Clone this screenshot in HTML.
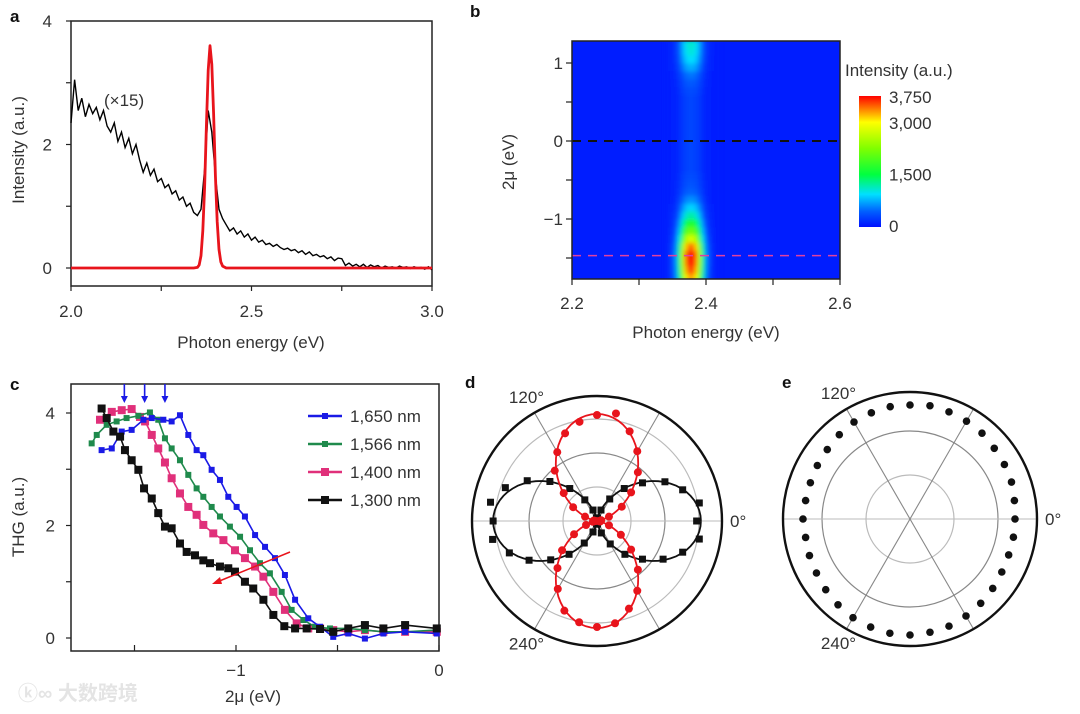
<!DOCTYPE html>
<html><head><meta charset="utf-8">
<style>
html,body{margin:0;padding:0;background:#fff;}
svg{display:block;font-family:"Liberation Sans","Noto Sans CJK SC",sans-serif;}
text{fill:#333;font-size:17px;}
.lbl{font-weight:bold;font-size:17px;fill:#111;}
</style></head>
<body>
<svg id="fig" width="1080" height="714" viewBox="0 0 1080 714" xmlns="http://www.w3.org/2000/svg">
<defs>
<clipPath id="clipB"><rect x="572" y="41" width="268" height="238"/></clipPath>
<filter id="blurB" x="-5%" y="-5%" width="110%" height="110%"><feGaussianBlur stdDeviation="2.5"/></filter>
<linearGradient id="cbar" x1="0" y1="1" x2="0" y2="0">
<stop offset="0" stop-color="#0010ff"/><stop offset="0.12" stop-color="#0060ff"/><stop offset="0.25" stop-color="#00e0ff"/><stop offset="0.4" stop-color="#00ff40"/><stop offset="0.6" stop-color="#80ff00"/><stop offset="0.8" stop-color="#ffff00"/><stop offset="0.9" stop-color="#ff8000"/><stop offset="1" stop-color="#ff0000"/>
</linearGradient>
</defs>
<text class="lbl" x="10" y="22">a</text>
<text class="lbl" x="470" y="17">b</text>
<text class="lbl" x="10" y="390">c</text>
<text class="lbl" x="465" y="388">d</text>
<text class="lbl" x="782" y="388">e</text>
<g id="pa"></g>
<g id="pb"></g>
<g id="pc"></g>
<g id="pd"></g>
<g id="pe"></g>
<text x="18" y="700" style="font-size:20px;fill:#e4e4e4;font-weight:bold">ⓚ∞ 大数跨境</text>
</svg>
<script>
// ---------- Panel a data ----------
const aEnergyStart = 2.0, aEnergyStep = 0.01;
const aBlackValues = [2.35,3.05,2.55,2.75,2.45,2.65,2.5,2.6,2.4,2.55,
2.3,2.2,2.35,2.05,2.2,1.95,2.1,1.85,2.0,1.75,
1.55,1.7,1.5,1.6,1.4,1.45,1.3,1.35,1.2,1.25,
1.1,1.15,1.0,1.05,0.9,0.85,0.95,1.6,2.55,2.2,
1.5,0.95,0.8,0.7,0.6,0.65,0.55,0.6,0.5,0.55,
0.45,0.5,0.42,0.45,0.38,0.4,0.35,0.38,0.33,0.3,
0.32,0.28,0.3,0.25,0.28,0.22,0.26,0.2,0.22,0.18,
0.2,0.15,0.18,0.12,0.16,0.15,0.04,0.08,0.03,0.06,
0.02,0.06,0.01,0.05,0.02,0.04,0.0,0.03,0.01,0.02,
0.0,0.03,0.01,0.02,-0.01,0.02,0.0,0.01,-0.02,0.02,-0.03];
const aRedX = [2.0,2.34,2.35,2.355,2.36,2.365,2.37,2.375,2.38,2.385,2.39,2.395,2.40,2.405,2.41,2.415,2.42,2.43,3.0];
const aRedY = [0,0,0.01,0.05,0.2,0.6,1.3,2.3,3.2,3.6,3.3,2.5,1.5,0.75,0.3,0.1,0.03,0,0];
const aXTicks = [2.0,2.5,3.0], aXTickLabels = ["2.0","2.5","3.0"];
const aYTicks = [0,2,4], aYTickLabels = ["0","2","4"];

// ---------- Panel b data ----------
const bEnergy = [2.34,2.345,2.35,2.355,2.36,2.365,2.37,2.375,2.38,2.385,2.39,2.395,2.40,2.405,2.41,2.415,2.42];
const bEnergyProfile = [0,0.02,0.06,0.15,0.35,0.65,0.9,1.0,1.0,0.9,0.65,0.35,0.15,0.06,0.02,0,0];
const bMu = [-1.75,-1.65,-1.55,-1.45,-1.35,-1.25,-1.15,-1.05,-0.95,-0.85,-0.75,-0.65,-0.55,-0.45,-0.35,-0.25,-0.15,-0.05,0.05,0.15,0.25,0.35,0.45,0.55,0.65,0.75,0.85,0.95,1.05,1.15,1.25];
const bMuProfile = [0.85,0.93,0.98,1.0,0.9,0.72,0.55,0.42,0.3,0.22,0.15,0.1,0.08,0.07,0.06,0.06,0.06,0.06,0.06,0.06,0.06,0.06,0.06,0.06,0.07,0.09,0.12,0.18,0.23,0.26,0.27];
const bXTickLabels = ["2.2","2.4","2.6"], bXTicks = [2.2,2.4,2.6];
const bYTickLabels = ["1","0","\u22121"], bYTicks = [1,0,-1];
const bCbarLabels = ["3,750","3,000","1,500","0"], bCbarValues = [3750,3000,1500,0];
const bLineMu = [0,-1.47];

// ---------- Panel c data ----------
const c1650x = [-1.662,-1.612,-1.563,-1.514,-1.456,-1.415,-1.358,-1.317,-1.276,-1.235,-1.194,-1.161,-1.120,-1.079,-1.038,-0.997,-0.956,-0.906,-0.857,-0.808,-0.759,-0.709,-0.644,-0.586,-0.521,-0.447,-0.365,-0.274,-0.167,-0.011];
const c1650y = [3.34,3.37,3.67,3.70,3.88,3.91,3.88,3.85,3.96,3.61,3.34,3.25,2.99,2.81,2.51,2.33,2.16,1.83,1.62,1.42,1.12,0.68,0.35,0.20,0.02,0.08,-0.01,0.08,0.11,0.08];
const c1566x = [-1.711,-1.686,-1.637,-1.588,-1.539,-1.481,-1.424,-1.383,-1.350,-1.317,-1.276,-1.235,-1.194,-1.161,-1.120,-1.079,-1.030,-0.980,-0.931,-0.882,-0.833,-0.775,-0.726,-0.668,-0.611,-0.537,-0.447,-0.365,-0.274,-0.167,-0.011];
const c1566y = [3.46,3.61,3.79,3.85,3.91,3.95,4.01,3.88,3.55,3.37,3.16,2.90,2.66,2.51,2.33,2.16,1.98,1.80,1.56,1.33,1.15,0.82,0.50,0.32,0.20,0.17,0.17,0.14,0.11,0.11,0.14];
const c1400x = [-1.670,-1.612,-1.563,-1.514,-1.473,-1.448,-1.415,-1.383,-1.350,-1.317,-1.276,-1.235,-1.194,-1.161,-1.112,-1.062,-1.005,-0.956,-0.906,-0.865,-0.816,-0.759,-0.701,-0.644,-0.586,-0.521,-0.447,-0.365,-0.274,-0.167,-0.011];
const c1400y = [3.88,4.02,4.05,4.07,3.93,3.85,3.61,3.37,3.12,2.84,2.57,2.33,2.19,2.01,1.86,1.74,1.56,1.42,1.27,1.09,0.82,0.50,0.26,0.17,0.17,0.14,0.11,0.14,0.11,0.11,0.11];
const c1300x = [-1.662,-1.637,-1.604,-1.571,-1.547,-1.514,-1.481,-1.453,-1.415,-1.383,-1.350,-1.317,-1.276,-1.243,-1.202,-1.161,-1.128,-1.079,-1.038,-1.005,-0.956,-0.915,-0.865,-0.816,-0.762,-0.709,-0.652,-0.586,-0.521,-0.447,-0.365,-0.274,-0.167,-0.011];
const c1300y = [4.08,3.91,3.67,3.58,3.34,3.16,2.99,2.66,2.48,2.22,1.98,1.95,1.68,1.53,1.47,1.38,1.33,1.27,1.24,1.18,1.00,0.88,0.68,0.41,0.21,0.17,0.17,0.16,0.11,0.17,0.23,0.17,0.23,0.17];
const cSeriesNames = ["1,650 nm","1,566 nm","1,400 nm","1,300 nm"];
const cArrowX = [-1.55,-1.45,-1.35];
const cXTicks = [-1,0], cXTickLabels = ["\u22121","0"];
const cYTicks = [0,2,4], cYTickLabels = ["0","2","4"];

// ---------- Panel d data (angles in degrees) ----------
const dAngles = [0,10,20,30,40,50,60,70,80,90,100,110,120,130,140,150,160,170,180,190,200,210,220,230,240,250,260,270,280,290,300,310,320,330,340,350];
const dBlack = [0.94,0.98,0.86,0.74,0.56,0.40,0.24,0.11,0.03,0.01,0.03,0.11,0.23,0.40,0.58,0.76,0.92,1.02,0.98,1.0,0.88,0.74,0.57,0.41,0.24,0.11,0.03,0.01,0.03,0.12,0.25,0.41,0.56,0.72,0.86,0.98];
const dRed = [0.02,0.04,0.12,0.27,0.42,0.60,0.76,0.90,1.03,1.0,0.95,0.88,0.75,0.62,0.41,0.26,0.12,0.03,0.01,0.04,0.11,0.25,0.43,0.58,0.74,0.9,0.97,1.0,0.98,0.88,0.76,0.6,0.42,0.26,0.12,0.03];
const dFitBlack = 0.98, dFitRed = 1.01;
// ---------- Panel e data ----------
const eValues = [1.05,1.06,1.08,1.09,1.10,1.12,1.13,1.14,1.15,1.14,1.14,1.13,1.12,1.10,1.08,1.07,1.06,1.06,1.07,1.06,1.07,1.08,1.10,1.12,1.14,1.15,1.16,1.16,1.15,1.14,1.12,1.10,1.08,1.06,1.05,1.05];
const polarTickLabels = ["0\u00b0","120\u00b0","240\u00b0"];

const NS = "http://www.w3.org/2000/svg";
function mk(parent, tag, attrs, txt){
  const el = document.createElementNS(NS, tag);
  for (const k in attrs) el.setAttribute(k, attrs[k]);
  if (txt !== undefined) el.textContent = txt;
  parent.appendChild(el);
  return el;
}
function lin(d0,d1,r0,r1){ return v => r0 + (v-d0)*(r1-r0)/(d1-d0); }

// ===== Panel a =====
(function(){
  const g = document.getElementById('pa');
  const x = lin(2,3,71,432), y = lin(0,4,268,21);
  const box = mk(g,'rect',{x:71,y:21,width:361,height:265,fill:'none',stroke:'#222','stroke-width':1.5});
  
  
  [0,1,2,3,4].forEach(v=>{
    const t = mk(g,'line',{x1:71,x2:66,y1:y(v),y2:y(v),stroke:'#222','stroke-width':1.2});
    
    
  });
  [2,2.25,2.5,2.75,3].forEach(v=>{
    const t = mk(g,'line',{x1:x(v),x2:x(v),y1:286,y2:291,stroke:'#222','stroke-width':1.2});
    
    
  });
  aYTicks.forEach((v,i)=>{
    const t = mk(g,'text',{x:52,y:y(v)+6,'text-anchor':'end'},aYTickLabels[i]);
    
    
  });
  aXTicks.forEach((v,i)=>{
    const t = mk(g,'text',{x:x(v),y:317,'text-anchor':'middle'},aXTickLabels[i]);
    
    
  });
  const xt = mk(g,'text',{x:251,y:348,'text-anchor':'middle'},'Photon energy (eV)');
  
  
  const yt = mk(g,'text',{x:0,y:0,'text-anchor':'middle',transform:'translate(24,150) rotate(-90)'},'Intensity (a.u.)');
  
  
  const pts = aBlackValues.map((v,i)=>x(aEnergyStart+i*aEnergyStep).toFixed(1)+','+y(v).toFixed(1)).join(' ');
  const bl = mk(g,'polyline',{points:pts,fill:'none',stroke:'#000','stroke-width':1.4});
  
  
  const rp = aRedX.map((v,i)=>x(v).toFixed(1)+','+y(aRedY[i]).toFixed(1)).join(' ');
  const rl = mk(g,'polyline',{points:rp,fill:'none',stroke:'#e8141c','stroke-width':2.8,'stroke-linejoin':'round'});
  
  
  const lab = mk(g,'text',{x:104,y:106},'(\u00d715)');
  
  
})();

// ===== Panel b =====
function cmap(t){
  const stops=[[0,[0,16,255]],[0.12,[0,96,255]],[0.25,[0,224,255]],[0.4,[0,255,64]],[0.6,[128,255,0]],[0.8,[255,255,0]],[0.9,[255,128,0]],[1,[255,0,0]]];
  t=Math.max(0,Math.min(1,t));
  for(let i=1;i<stops.length;i++){ if(t<=stops[i][0]){ const a=stops[i-1],b=stops[i],f=(t-a[0])/(b[0]-a[0]);
    return 'rgb('+a[1].map((c,k)=>Math.round(c+(b[1][k]-c)*f)).join(',')+')'; } }
  return 'rgb(255,0,0)';
}
(function(){
  const g = document.getElementById('pb');
  const x = lin(2.2,2.6,572,840), y = lin(0,1,141,63);
  const bg = mk(g,'rect',{x:572,y:41,width:268,height:238,fill:cmap(0.02)});
  
  
  const cg = mk(g,'g',{'clip-path':'url(#clipB)'});
  const hg = mk(cg,'g',{filter:'url(#blurB)'});
  const dE = 0.005, dM = 0.1;
  bMu.forEach((m,i)=>{
    bEnergy.forEach((e,j)=>{
      const v = bMuProfile[i]*bEnergyProfile[j];
      const c = mk(hg,'rect',{x:x(e-dE/2),y:y(m+dM/2),width:x(e+dE/2)-x(e-dE/2)+0.5,height:y(m-dM/2)-y(m+dM/2)+0.5,fill:cmap(0.02+v)});
      
      
    });
  });
  const l0 = mk(g,'line',{x1:572,x2:840,y1:y(bLineMu[0]),y2:y(bLineMu[0]),stroke:'#111','stroke-width':2,'stroke-dasharray':'9,7'});
  
  
  const l1 = mk(g,'line',{x1:572,x2:840,y1:y(bLineMu[1]),y2:y(bLineMu[1]),stroke:'#e040a0','stroke-width':1.5,'stroke-dasharray':'9,7'});
  
  
  const fr = mk(g,'rect',{x:572,y:41,width:268,height:238,fill:'none',stroke:'#222','stroke-width':1.5});
  
  
  [1,0.5,0,-0.5,-1,-1.5].forEach(v=>{
    const t = mk(g,'line',{x1:572,x2:566,y1:y(v),y2:y(v),stroke:'#222','stroke-width':1.2});
    
    
  });
  [2.2,2.3,2.4,2.5,2.6].forEach(v=>{
    const t = mk(g,'line',{x1:x(v),x2:x(v),y1:279,y2:285,stroke:'#222','stroke-width':1.2});
    
    
  });
  bYTicks.forEach((v,i)=>{
    const t = mk(g,'text',{x:563,y:y(v)+6,'text-anchor':'end'},bYTickLabels[i]);
    
    
  });
  bXTicks.forEach((v,i)=>{
    const t = mk(g,'text',{x:x(v),y:309,'text-anchor':'middle'},bXTickLabels[i]);
    
    
  });
  const xt = mk(g,'text',{x:706,y:338,'text-anchor':'middle'},'Photon energy (eV)');
  
  
  const yt = mk(g,'text',{x:0,y:0,'text-anchor':'middle',transform:'translate(514,162) rotate(-90)'},'2\u03bc (eV)');
  
  
  const cb = mk(g,'rect',{x:859,y:96,width:22,height:131,fill:'url(#cbar)'});
  
  
  const cy = lin(0,3750,226,97);
  bCbarValues.forEach((v,i)=>{
    const t = mk(g,'text',{x:889,y:cy(v)+6},bCbarLabels[i]);
    
    
  });
  const ct = mk(g,'text',{x:845,y:76},'Intensity (a.u.)');
  
  
})();

// ===== Panel c =====
(function(){
  const g = document.getElementById('pc');
  const x = lin(-1,0,236,439), y = lin(0,4,638,413);
  const fr = mk(g,'rect',{x:71,y:384,width:368,height:267,fill:'none',stroke:'#222','stroke-width':1.5});
  
  
  [0,1,2,3,4].forEach(v=>{
    const t = mk(g,'line',{x1:71,x2:66,y1:y(v),y2:y(v),stroke:'#222','stroke-width':1.2});
    
    
  });
  [-1.5,-1,-0.5,0].forEach(v=>{
    const t = mk(g,'line',{x1:x(v),x2:x(v),y1:651,y2:645,stroke:'#222','stroke-width':1.2});
    
    
  });
  cYTicks.forEach((v,i)=>{
    const t = mk(g,'text',{x:55,y:y(v)+6,'text-anchor':'end'},cYTickLabels[i]);
    
    
  });
  cXTicks.forEach((v,i)=>{
    const t = mk(g,'text',{x:x(v),y:676,'text-anchor':'middle'},cXTickLabels[i]);
    
    
  });
  const xt = mk(g,'text',{x:253,y:702,'text-anchor':'middle'},'2\u03bc (eV)');
  
  
  const yt = mk(g,'text',{x:0,y:0,'text-anchor':'middle',transform:'translate(24,517) rotate(-90)'},'THG (a.u.)');
  
  
  const series = [[c1650x,c1650y,'#1a1ae6',6],[c1566x,c1566y,'#1f8a4c',6],[c1400x,c1400y,'#e0307a',8],[c1300x,c1300y,'#111',8]];
  [2,1,0,3].forEach(si=>{
    const [xs,ys,col,sz] = series[si];
    const sg = mk(g,'g',{});
    
    
    const pl = mk(sg,'polyline',{points:xs.map((v,i)=>x(v).toFixed(1)+','+y(ys[i]).toFixed(1)).join(' '),fill:'none',stroke:col,'stroke-width':1.6});
    
    
    xs.forEach((v,i)=>{
      const m = mk(sg,'rect',{x:x(v)-sz/2,y:y(ys[i])-sz/2,width:sz,height:sz,fill:col});
      
      
    });
  });
  cArrowX.forEach(v=>{
    const a = mk(g,'line',{x1:x(v),x2:x(v),y1:384,y2:398,stroke:'#1a1ae6','stroke-width':1.6});
    
    
    const h = mk(g,'path',{d:`M${x(v)-3.5},396 L${x(v)+3.5},396 L${x(v)},403 Z`,fill:'#1a1ae6'});
    
    
  });
  const ra = mk(g,'line',{x1:290,y1:552,x2:217,y2:582,stroke:'#e8141c','stroke-width':1.5});
  
  
  const rh = mk(g,'path',{d:'M212,584 L220,577 L222,584 Z',fill:'#e8141c'});
  
  
  const cols = ['#1a1ae6','#1f8a4c','#e0307a','#111'], szs=[6,6,8,8];
  cSeriesNames.forEach((n,i)=>{
    const yy = 416 + i*28;
    const le = mk(g,'g',{});
    
    
    mk(le,'line',{x1:308,x2:342,y1:yy,y2:yy,stroke:cols[i],'stroke-width':2.5});
    mk(le,'rect',{x:325-szs[i]/2,y:yy-szs[i]/2,width:szs[i],height:szs[i],fill:cols[i]});
    mk(le,'text',{x:350,y:yy+6},n);
  });
})();

// ===== Polar helpers =====
function polarFrame(g,cx,cy,R,rings,key){
  rings.forEach((r,i)=>{
    const c = mk(g,'circle',{cx:cx,cy:cy,r:r,fill:'none',stroke:i===1?'#888':'#bbb','stroke-width':1.2});
    
    
  });
  [0,60,120].forEach(a=>{
    const t=a*Math.PI/180;
    const l = mk(g,'line',{x1:cx-R*Math.cos(t),y1:cy+R*Math.sin(t),x2:cx+R*Math.cos(t),y2:cy-R*Math.sin(t),stroke:a===0?'#bbb':'#888','stroke-width':1.1});
    
    
  });
  const o = mk(g,'circle',{cx:cx,cy:cy,r:R,fill:'none',stroke:'#111','stroke-width':2.4});
  
  
  const p = [[cx+R+8,cy+6,'start'],[cx-R*0.5-8,cy-R*0.866-10,'middle'],[cx-R*0.5-8,cy+R*0.866+20,'middle']];
  polarTickLabels.forEach((s,i)=>{
    const t = mk(g,'text',{x:p[i][0],y:p[i][1],'text-anchor':p[i][2]},s);
    
    
  });
}

// ===== Panel d =====
(function(){
  const g = document.getElementById('pd');
  const cx=597, cy=521, R=125, s=106;
  polarFrame(g,cx,cy,R,[34,68,102],'d');
  const pt=(a,v)=>[cx+v*s*Math.cos(a*Math.PI/180), cy-v*s*Math.sin(a*Math.PI/180)];
  let fb=[],fr=[];
  for(let a=0;a<=360;a+=3){ const c=Math.cos(a*Math.PI/180), sn=Math.sin(a*Math.PI/180);
    fb.push(pt(a,dFitBlack*c*c).map(v=>v.toFixed(1)).join(','));
    fr.push(pt(a,dFitRed*sn*sn).map(v=>v.toFixed(1)).join(',')); }
  const lb = mk(g,'polyline',{points:fb.join(' '),fill:'none',stroke:'#111','stroke-width':1.8});
  
  
  const lr = mk(g,'polyline',{points:fr.join(' '),fill:'none',stroke:'#e8141c','stroke-width':1.8});
  
  
  dAngles.forEach((a,i)=>{
    const [px,py]=pt(a,dBlack[i]);
    const m = mk(g,'rect',{x:px-3.5,y:py-3.5,width:7,height:7,fill:'#111'});
    
    
  });
  dAngles.forEach((a,i)=>{
    const [px,py]=pt(a,dRed[i]);
    const m = mk(g,'circle',{cx:px,cy:py,r:4,fill:'#e8141c'});
    
    
  });
})();

// ===== Panel e =====
(function(){
  const g = document.getElementById('pe');
  const cx=910, cy=519, R=127, s=100;
  polarFrame(g,cx,cy,R,[44,88],'e');
  dAngles.forEach((a,i)=>{
    const t=a*Math.PI/180;
    const m = mk(g,'circle',{cx:cx+eValues[i]*s*Math.cos(t),cy:cy-eValues[i]*s*Math.sin(t),r:3.8,fill:'#111'});
    
    
  });
})();
</script>
</body></html>
